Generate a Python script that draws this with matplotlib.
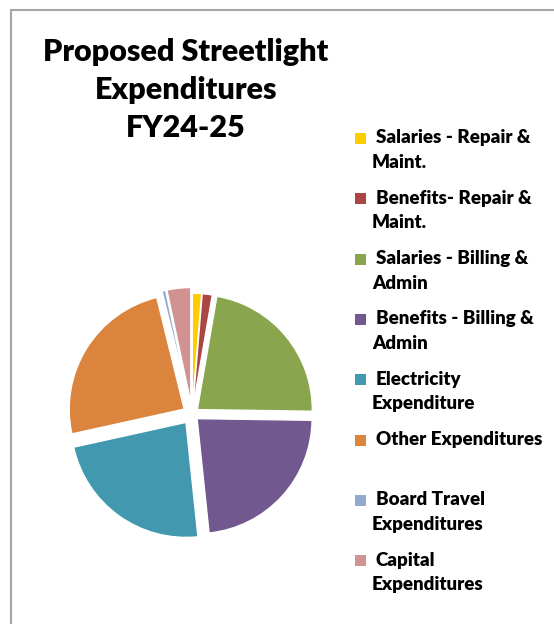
import matplotlib.pyplot as plt
from matplotlib.patches import Rectangle

plt.rcParams["font.family"] = ["Lato", "DejaVu Sans"]

# budget shares (percent of total) and legend labels
categories = [
    "Salaries - Repair &\nMaint.",
    "Benefits- Repair &\nMaint.",
    "Salaries - Billing &\nAdmin",
    "Benefits - Billing &\nAdmin",
    "Electricity\nExpenditure",
    "Other Expenditures",
    "Board Travel\nExpenditures",
    "Capital\nExpenditures",
]
shares = [1.3, 1.4, 22.3, 22.9, 23.0, 24.4, 0.5, 3.3]
colors = ["#FFCC00", "#AA4643", "#89A54E", "#71588F",
          "#4198AF", "#DB843D", "#93A9CF", "#D19392"]
explode = [0.05, 0.05, 0.06, 0.06, 0.09, 0.08, 0.10, 0.10]

W, H = 554, 624
fig = plt.figure(figsize=(W / 100, H / 100), dpi=100)

# chart area frame (runs off the right and bottom edges)
fig.patches.append(Rectangle((11 / W, -0.1), 1.2, 1 - 10 / H + 0.1,
                             transform=fig.transFigure, fill=False,
                             edgecolor="#A6A6A6", lw=1.5))

fig.text(186 / W, 1 - 90 / H,
         "Proposed Streetlight\nExpenditures\nFY24-25",
         ha="center", va="center", fontsize=22, fontweight="heavy",
         linespacing=1.45)

# pie: radius 1 maps to about 115 px
span = 2.6 * 115
cx, cy = 192, H - 414
ax = fig.add_axes([(cx - span / 2) / W, (cy - span / 2) / H, span / W, span / H])
ax.pie(shares, colors=colors, explode=explode, startangle=90,
       counterclock=False, wedgeprops=dict(edgecolor="white", linewidth=1))
ax.set_xlim(-1.3, 1.3)
ax.set_ylim(-1.3, 1.3)
ax.set_aspect("equal")
ax.axis("off")

# legend drawn as a column of swatches with wrapped labels
top = 138
step = 60.3
for i, (label, c) in enumerate(zip(categories, colors)):
    y = top + i * step
    fig.patches.append(Rectangle((355 / W, 1 - (y + 6) / H), 11 / W, 11 / H,
                                 transform=fig.transFigure, facecolor=c,
                                 edgecolor="none"))
    first, _, rest = label.partition("\n")
    fig.text(376 / W, 1 - y / H, first, ha="left", va="center",
             fontsize=13.5, fontweight="heavy")
    if rest:
        fig.text(372 / W, 1 - (y + 24.5) / H, rest, ha="left", va="center",
                 fontsize=13.5, fontweight="heavy")

fig.savefig("out.png", dpi=100, facecolor="white")
